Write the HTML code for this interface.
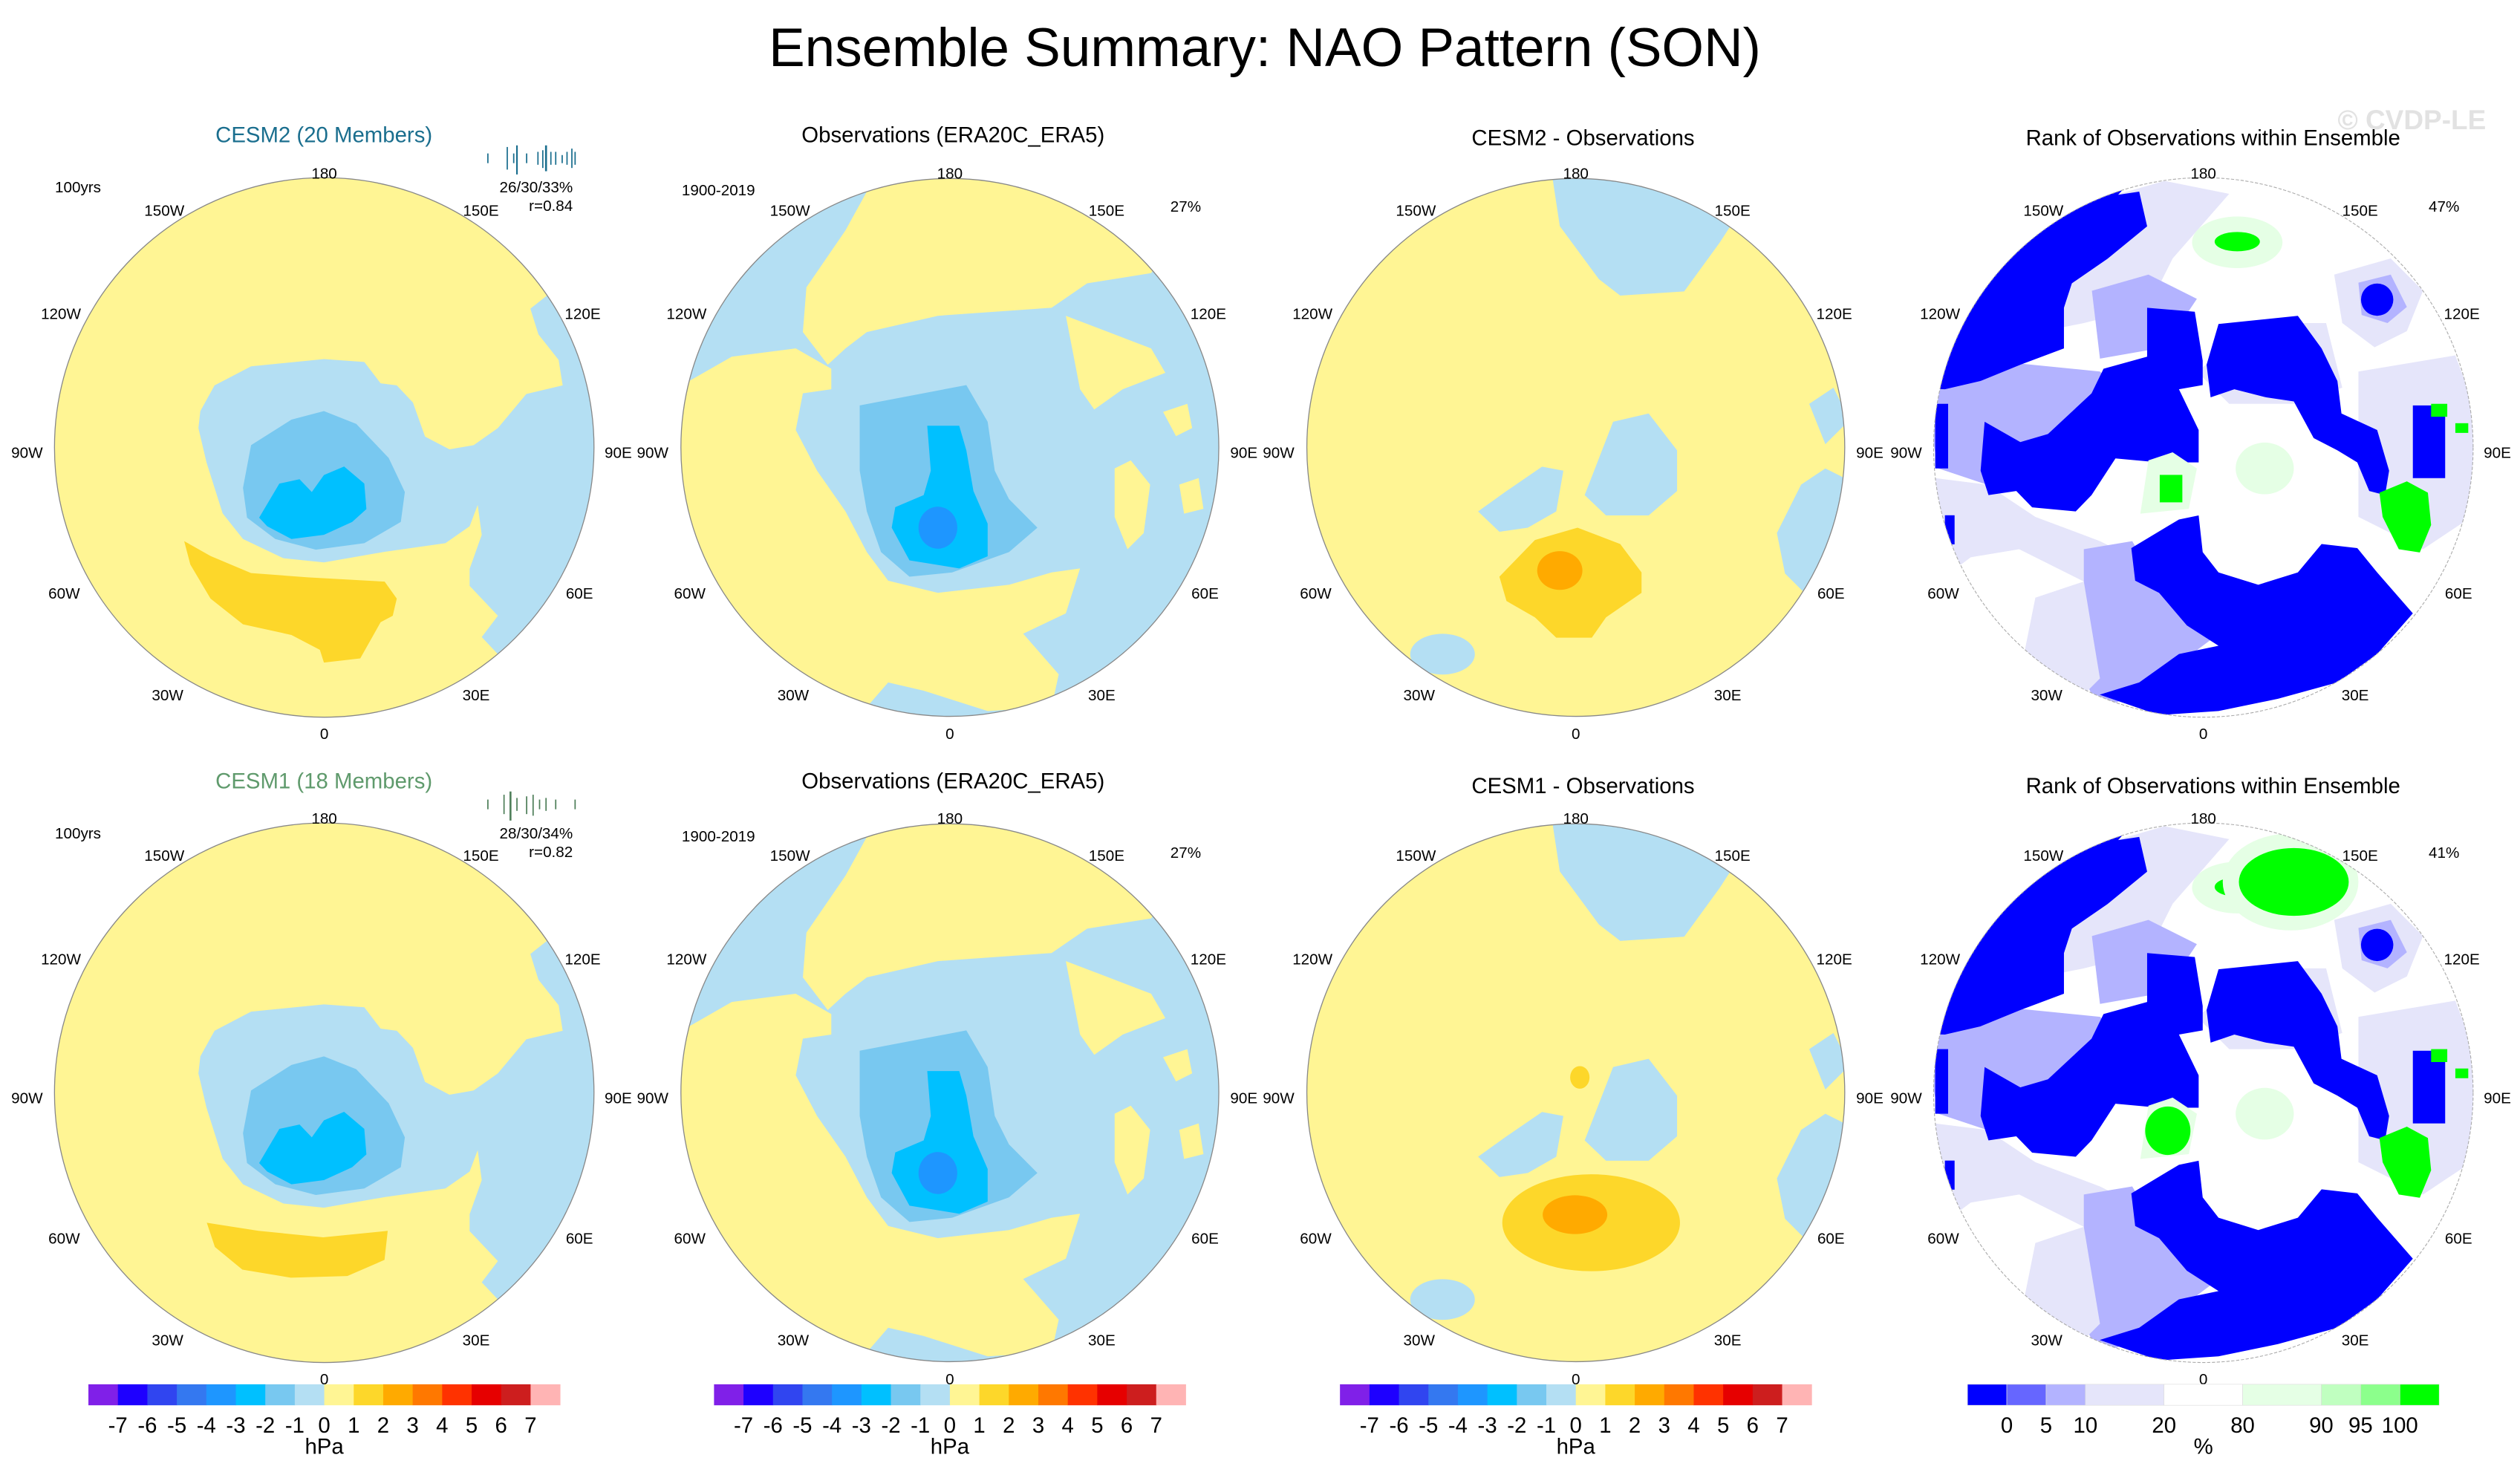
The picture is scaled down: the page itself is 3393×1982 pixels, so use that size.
<!DOCTYPE html>
<html><head><meta charset="utf-8">
<style>
html,body{margin:0;padding:0;background:#fff;}
svg{display:block;font-family:"Liberation Sans",Arial,sans-serif;}
</style></head>
<body>
<svg id="fig" xmlns="http://www.w3.org/2000/svg" width="3393" height="1982" viewBox="0 0 1560 911.3">
<defs>
  <clipPath id="c1"><circle cx="200.7" cy="277" r="167"/></clipPath>
  <clipPath id="c2"><circle cx="588" cy="277" r="166.5"/></clipPath>
  <clipPath id="c3"><circle cx="975.5" cy="277" r="166.5"/></clipPath>
  <clipPath id="c4"><circle cx="1364" cy="277" r="167"/></clipPath>
  <clipPath id="c5"><circle cx="200.7" cy="676.5" r="167"/></clipPath>
  <clipPath id="c6"><circle cx="588" cy="676.5" r="166.5"/></clipPath>
  <clipPath id="c7"><circle cx="975.5" cy="676.5" r="166.5"/></clipPath>
  <clipPath id="c8"><circle cx="1364" cy="676.5" r="167"/></clipPath>
  <g id="cesm-field">
    <polygon fill="#b4dff3" points="124,254.5 132.8,238.6 155.4,226.8 200.5,222.3 225.5,224.1 235.6,237.3 245.6,238.6 255.6,249.2 263.1,270.3 278.2,278.2 293.2,275.6 308.2,265 325.8,243.9 348.3,238.6 345.8,222.8 333.3,207 328.3,191.1 338.3,183.2 360,170 400,280 330,440 308.2,405 298.2,394.4 308.2,381.2 290.7,362.7 290.7,352.2 298.2,331.1 295.7,312.6 290.7,325.8 275.7,336.3 238.1,341.6 200.5,348.2 175.4,345.6 150.4,333.7 137.8,317.8 127.8,286.2 122.8,265"/>
    <polygon fill="#fff594" points="302,210 306,230 310,250 312,240 306,220"/>
    <polygon fill="#78c8f0" points="150.4,302 155.4,275.6 180.4,259.8 200.5,254.5 220.5,262.4 240.6,283.5 250.6,304.6 248.1,323.1 225.5,336.3 195.5,340.3 170.4,333.7 152.9,320.5"/>
    <polygon fill="#00c0ff" points="160.4,320.5 172.9,299.4 185.4,296.7 193,304.6 200.5,294.1 213,288.8 225.5,299.4 226.8,315.2 218,323.1 200.5,331.1 180.4,333.7 165.4,325.8"/>
  </g>
  <g id="obs-field">
    <circle cx="588" cy="277" r="170" fill="#b4dff3"/>
    <polygon fill="#fff594" points="536.6,118.6 523.4,142.6 499.2,177.9 497,205.6 512.4,225.8 523.4,215.7 536.6,205.6 580.6,195.5 651,190.5 673,175.4 712.6,169.1 760,100 536,90"/>
    <polygon fill="#fff594" points="426.6,235.9 453,220.8 492.6,215.7 514.6,228.3 514.6,241 497,243.5 492.6,266.2 505.8,291.4 523.4,316.6 536.6,341.8 549.8,359.5 580.6,367 624.6,362 651,354.4 668.6,351.9 659.8,379.7 633.4,392.3 655.4,417.5 651,437.7 611.4,440.2 571.8,427.6 549.8,422.5 536.6,437.7 480,470 400,400 400,240"/>
    <polygon fill="#b4dff3" points="420,420 470,430 520,440 540,460 440,460"/>
    <polygon fill="#fff594" points="659.8,195.5 686.2,205.6 712.6,215.7 721.4,230.8 695,241 677.4,253.5 668.6,241"/>
    <polygon fill="#fff594" points="690,290 700,285 712,300 708,330 698,340 690,320"/>
    <polygon fill="#fff594" points="720,255 735,250 738,265 728,270"/>
    <polygon fill="#fff594" points="730,300 742,296 745,315 733,318"/>
    <polygon fill="#78c8f0" points="532.2,251 598.2,238.4 611.4,261.1 615.8,291.4 624.6,309 642.2,326.7 624.6,341.8 589.4,354.4 563,357 545.4,341.8 536.6,316.6 532.2,291.4"/>
    <polygon fill="#00c0ff" points="574,263.6 593.8,263.6 598.2,278.8 602.6,304 611.4,324.2 611.4,344.4 593.8,351.9 563,346.9 552,326.7 554.2,314 571.8,306.5 576.2,291.4"/>
    <ellipse fill="#1e96ff" cx="580.6" cy="326.7" rx="12" ry="13"/>
  </g>
  <g id="diff-field">
    <polygon fill="#b4dff3" points="961.2,111 965.6,140 989.8,172.8 1003,183 1042.6,180.4 1064.6,150.2 1071.2,140 1060,100 960,100"/>
    <polygon fill="#b4dff3" points="915,316.6 932.6,304 954.6,288.9 967.8,291.4 963.4,316.6 945.8,326.7 928.2,329.2"/>
    <polygon fill="#b4dff3" points="981,306.5 998.6,261.1 1020.6,256 1038.2,278.8 1038.2,304 1020.6,319.1 994.2,319.1"/>
    <ellipse fill="#b4dff3" cx="893" cy="405" rx="20" ry="12.6"/>
    <polygon fill="#b4dff3" points="1100,330 1115,300 1130,290 1150,300 1150,370 1120,370 1105,355"/>
    <polygon fill="#b4dff3" points="1120,250 1135,240 1145,260 1130,275"/>
  </g>
  <g id="rank-field">
    <circle cx="1364" cy="277" r="170" fill="#ffffff"/>
    <polygon fill="#e5e5fa" points="1277,130 1340,112 1380,120 1345,160 1330,190 1290,200 1240,210 1220,180"/>
    <polygon fill="#b3b3ff" points="1295,180 1330,170 1360,185 1340,215 1300,222"/>
    <polygon fill="#b3b3ff" points="1190,240 1250,225 1300,230 1320,250 1300,290 1270,300 1230,300 1200,290"/>
    <polygon fill="#e5e5fa" points="1190,295 1230,300 1260,320 1300,335 1320,345 1290,360 1250,340 1220,345 1200,360"/>
    <polygon fill="#e5e5fa" points="1360,230 1400,200 1440,200 1450,240 1420,250 1380,250"/>
    <polygon fill="#b3b3ff" points="1290,340 1320,335 1340,370 1370,395 1330,425 1300,440 1285,410 1290,380"/>
    <polygon fill="#e5e5fa" points="1260,370 1290,360 1300,420 1280,440 1250,420"/>
    <polygon fill="#e5e5fa" points="1445,170 1480,160 1500,180 1490,205 1470,215 1450,200"/>
    <polygon fill="#b3b3ff" points="1460,175 1480,170 1490,190 1478,200 1462,195"/>
    <polygon fill="#e5e5fa" points="1460,230 1520,220 1535,260 1530,320 1500,340 1460,320"/>
    <polygon fill="#0000ff" points="1204,238.4 1209,205.6 1226,170.3 1250.7,140.1 1282.6,124.9 1324.3,118.6 1329.2,140.1 1304.7,160.2 1282.6,175.4 1277.7,190.5 1277.7,215.7 1250.7,225.8 1226,235.9 1204,241 1180,240 1180,100 1330,100"/>
    <polygon fill="#0000ff" points="1228.6,261.1 1250.7,273.7 1267.8,268.7 1294.8,243.5 1302.2,228.3 1329.2,220.8 1329.2,190.5 1358.7,193 1363.6,223.3 1363.6,238.4 1348.9,241 1361.1,266.2 1361.1,286.3 1336.6,286.3 1309.6,283.8 1294.8,306.5 1285,316.6 1258,314.1 1248.2,304 1231,306.5 1226.1,291.4"/>
    <polygon fill="#0000ff" points="1373.4,200.6 1422.5,195.5 1437.2,215.7 1447,235.9 1449.5,256 1471.6,266.2 1479,291.4 1476.5,306.5 1466.7,304 1459.3,286.3 1447,278.8 1432.3,271.2 1420,248.5 1402.9,246 1383.2,241 1368.5,246 1366,225.8"/>
    <polygon fill="#0000ff" points="1319.4,339.3 1348.9,321.6 1361.1,319.1 1363.6,341.8 1373.4,354.4 1398,362 1422.5,354.4 1437.2,336.8 1459.3,339.3 1471.6,354.4 1493.7,379.7 1471.6,404.9 1447,422.5 1410.2,432.6 1373.4,440.2 1336.6,442.7 1299.8,430.1 1324.3,422.5 1348.9,404.9 1373.4,399.8 1353.8,387.2 1336.6,367 1321.8,359.5"/>
    <ellipse fill="#0000ff" cx="1471.6" cy="185.5" rx="10" ry="10"/>
    <rect fill="#0000ff" x="1493.7" y="251" width="20" height="45"/>
    <rect fill="#0000ff" x="1198" y="250" width="8" height="40"/>
    <rect fill="#0000ff" x="1204" y="319" width="6" height="18"/>
    <ellipse fill="#e5ffe5" cx="1385" cy="150" rx="28" ry="16"/>
    <ellipse fill="#00ff00" cx="1385" cy="149.6" rx="14" ry="6"/>
    <polygon fill="#e5ffe5" points="1330,285 1345,280 1360,290 1355,315 1325,318"/>
    <rect fill="#00ff00" x="1337" y="294" width="14" height="17"/>
    <ellipse fill="#e5ffe5" cx="1402" cy="290" rx="18" ry="16"/>
    <polygon fill="#00ff00" points="1473,305 1490,298 1503,305 1505,325 1498,342 1485,340 1475,320"/>
    <rect fill="#00ff00" x="1505" y="250" width="10" height="8"/>
    <rect fill="#00ff00" x="1520" y="262" width="8" height="6"/>
  </g>
</defs>

<text x="783" y="41" font-size="33.5" text-anchor="middle" fill="#000">Ensemble Summary: NAO Pattern (SON)</text>
<text x="1539" y="80" font-size="17" font-weight="bold" text-anchor="end" fill="#e2e2e2">© CVDP-LE</text>

<g>
  <g clip-path="url(#c1)"><circle cx="200.7" cy="277" r="170" fill="#fff594"/><use href="#cesm-field"/>
    <polygon fill="#fdd72a" points="114,335 130.3,344.2 155.4,354.8 190.5,357.4 238.1,360.1 245.6,370.6 243.1,381.2 235.6,385.2 223,407.6 200.5,410.2 198,402.3 180.4,393.1 150.4,386.5 130.3,370.6 117.8,349.5"/></g>
  <circle cx="200.7" cy="277" r="167" fill="none" stroke="#888" stroke-width="0.6"/>
  <text x="200.5" y="88" font-size="13.5" text-anchor="middle" fill="#1a6e8e">CESM2 (20 Members)</text>
  <text x="34" y="119" font-size="9.5">100yrs</text>
  <text x="354.6" y="119" font-size="9.5" text-anchor="end">26/30/33%</text>
  <text x="354.6" y="130.5" font-size="9.5" text-anchor="end">r=0.84</text>
  <g stroke="#1a6e8e" stroke-width="0.8">
    <line x1="302" y1="95" x2="302" y2="101"/><line x1="314" y1="91" x2="314" y2="105"/><line x1="318" y1="95" x2="318" y2="101"/><line x1="320" y1="90" x2="320" y2="108" stroke-width="1"/><line x1="326" y1="95" x2="326" y2="101"/><line x1="333" y1="94" x2="333" y2="102"/><line x1="336" y1="93" x2="336" y2="104"/><line x1="338" y1="90" x2="338" y2="106" stroke-width="1.2"/><line x1="341" y1="94" x2="341" y2="102"/><line x1="344" y1="94" x2="344" y2="102"/><line x1="348" y1="96" x2="348" y2="101"/><line x1="351" y1="94" x2="351" y2="102"/><line x1="354" y1="92" x2="354" y2="104"/><line x1="356" y1="94" x2="356" y2="102"/>
  </g>
</g>
<g>
  <g clip-path="url(#c2)"><use href="#obs-field"/></g>
  <circle cx="588" cy="277" r="166.5" fill="none" stroke="#888" stroke-width="0.6"/>
  <text x="590" y="88" font-size="13.5" text-anchor="middle">Observations (ERA20C_ERA5)</text>
  <text x="422" y="121" font-size="9.5">1900-2019</text>
  <text x="734" y="131" font-size="9.5" text-anchor="middle">27%</text>
</g>
<g>
  <g clip-path="url(#c3)"><circle cx="975.5" cy="277" r="170" fill="#fff594"/><use href="#diff-field"/>
    <polygon fill="#fdd72a" points="928.2,357 950.2,334.3 976.6,326.7 1003,336.8 1016.2,354.4 1016.2,367 994.2,382.2 985.4,394.8 963.4,394.8 950.2,382.2 932.6,372.1"/>
    <ellipse fill="#ffaa00" cx="965.6" cy="353.2" rx="14" ry="12"/></g>
  <circle cx="975.5" cy="277" r="166.5" fill="none" stroke="#888" stroke-width="0.6"/>
  <text x="980" y="90" font-size="13.5" text-anchor="middle">CESM2 - Observations</text>
</g>
<g>
  <g clip-path="url(#c4)"><use href="#rank-field"/></g>
  <circle cx="1364" cy="277" r="167" fill="none" stroke="#aaa" stroke-width="0.5" stroke-dasharray="2 1"/>
  <text x="1370" y="90" font-size="13.5" text-anchor="middle">Rank of Observations within Ensemble</text>
  <text x="1513" y="131" font-size="9.5" text-anchor="middle">47%</text>
</g>
<g>
  <g clip-path="url(#c5)"><circle cx="200.7" cy="676.5" r="170" fill="#fff594"/><g transform="translate(0,399.5)"><use href="#cesm-field"/></g>
    <polygon fill="#fdd72a" points="128,757 160,762 200,766 240,762 238,780 215,790 180,791 150,786 133,772"/></g>
  <circle cx="200.7" cy="676.5" r="167" fill="none" stroke="#888" stroke-width="0.6"/>
  <text x="200.5" y="488" font-size="13.5" text-anchor="middle" fill="#5f9a6c">CESM1 (18 Members)</text>
  <text x="34" y="519" font-size="9.5">100yrs</text>
  <text x="354.6" y="519" font-size="9.5" text-anchor="end">28/30/34%</text>
  <text x="354.6" y="530.5" font-size="9.5" text-anchor="end">r=0.82</text>
  <g stroke="#4f7f5a" stroke-width="0.8">
    <line x1="302" y1="495" x2="302" y2="501"/><line x1="312" y1="492" x2="312" y2="504"/><line x1="316" y1="490" x2="316" y2="508" stroke-width="1.2"/><line x1="320" y1="494" x2="320" y2="502"/><line x1="326" y1="493" x2="326" y2="504"/><line x1="330" y1="492" x2="330" y2="505"/><line x1="334" y1="495" x2="334" y2="501"/><line x1="338" y1="494" x2="338" y2="502"/><line x1="344" y1="495" x2="344" y2="501"/><line x1="356" y1="495" x2="356" y2="501"/>
  </g>
</g>
<g>
  <g clip-path="url(#c6)"><g transform="translate(0,399.5)"><use href="#obs-field"/></g></g>
  <circle cx="588" cy="676.5" r="166.5" fill="none" stroke="#888" stroke-width="0.6"/>
  <text x="590" y="488" font-size="13.5" text-anchor="middle">Observations (ERA20C_ERA5)</text>
  <text x="422" y="521" font-size="9.5">1900-2019</text>
  <text x="734" y="531" font-size="9.5" text-anchor="middle">27%</text>
</g>
<g>
  <g clip-path="url(#c7)"><circle cx="975.5" cy="676.5" r="170" fill="#fff594"/><g transform="translate(0,399.5)"><use href="#diff-field"/></g>
    <ellipse fill="#fdd72a" cx="985" cy="757" rx="55" ry="30"/>
    <ellipse fill="#ffaa00" cx="975" cy="752" rx="20" ry="12"/>
    <ellipse fill="#fdd72a" cx="978" cy="667" rx="6" ry="7"/></g>
  <circle cx="975.5" cy="676.5" r="166.5" fill="none" stroke="#888" stroke-width="0.6"/>
  <text x="980" y="491" font-size="13.5" text-anchor="middle">CESM1 - Observations</text>
</g>
<g>
  <g clip-path="url(#c8)"><g transform="translate(0,399.5)"><use href="#rank-field"/></g>
    <ellipse fill="#e5ffe5" cx="1418" cy="546" rx="42" ry="30"/>
    <ellipse fill="#00ff00" cx="1420" cy="546" rx="34" ry="21"/>
    <ellipse fill="#00ff00" cx="1342" cy="700" rx="14" ry="15"/></g>
  <circle cx="1364" cy="676.5" r="167" fill="none" stroke="#aaa" stroke-width="0.5" stroke-dasharray="2 1"/>
  <text x="1370" y="491" font-size="13.5" text-anchor="middle">Rank of Observations within Ensemble</text>
  <text x="1513" y="531" font-size="9.5" text-anchor="middle">41%</text>
</g>
<g id="labels" font-size="9.5" text-anchor="middle"></g>
<g id="bars"></g>
</svg>
<script>
const hpaColors = ["#8020e8","#1e00ff","#3045f0","#3478f0","#1e96ff","#00c0ff","#78c8f0","#b4dff3","#fff594","#fdd72a","#ffaa00","#ff7800","#ff3200","#e60000","#cd1e1e","#ffb4b4"];
const hpaTicks = ["-7","-6","-5","-4","-3","-2","-1","0","1","2","3","4","5","6","7"];
const rankColors = ["#0000ff","#6666ff","#b3b3ff","#e5e5fa","#ffffff","#e5ffe5","#c0ffc0","#8cff8c","#00ff00"];
const rankUnits = [1,1,1,2,2,2,1,1,1];
const rankTicks = ["0","5","10","20","80","90","95","100"];
const panelCx = [200.7,588,975.5,1364];
const rowCy = [277,676.5];
const lonLabels = ["180","150E","120E","90E","60E","30E","0","30W","60W","90W","120W","150W"];
const lonOffsets = [[0,-170],[97,-147],[160,-83],[182,3],[158,90],[94,153],[0,177],[-97,153],[-161,90],[-184,3],[-163,-83],[-99,-147]];
const NS="http://www.w3.org/2000/svg";
const lab=document.getElementById('labels');
rowCy.forEach(cy=>panelCx.forEach(cx=>{
  lonLabels.forEach((s,i)=>{
    const t=document.createElementNS(NS,'text');
    t.setAttribute('x',cx+lonOffsets[i][0]);t.setAttribute('y',cy+lonOffsets[i][1]+3.5);
    t.textContent=s;
    
    
    lab.appendChild(t);
  });
}));
const bars=document.getElementById('bars');
const barW=292, barY=857, barH=13;
function addText(x,y,s,size){
  const t=document.createElementNS(NS,'text');
  t.setAttribute('x',x);t.setAttribute('y',y);t.setAttribute('font-size',size);t.setAttribute('text-anchor','middle');
  t.textContent=s;
  
  
  bars.appendChild(t);
}
for(let p=0;p<3;p++){
  const x0=panelCx[p]-barW/2, w=barW/hpaColors.length;
  hpaColors.forEach((c,i)=>{
    const r=document.createElementNS(NS,'rect');
    r.setAttribute('x',x0+i*w);r.setAttribute('y',barY);r.setAttribute('width',w+0.2);r.setAttribute('height',barH);r.setAttribute('fill',c);
    
    
    bars.appendChild(r);
  });
  hpaTicks.forEach((s,i)=>addText(x0+(i+1)*w,887,s,13.5));
  addText(panelCx[p],900,"hPa",13.5);
}
{
  const tot=rankUnits.reduce((a,b)=>a+b,0), u=barW/tot, x0=panelCx[3]-barW/2;
  let x=x0;
  rankColors.forEach((c,i)=>{
    const r=document.createElementNS(NS,'rect');
    r.setAttribute('x',x);r.setAttribute('y',barY);r.setAttribute('width',rankUnits[i]*u);r.setAttribute('height',barH);r.setAttribute('fill',c);
    r.setAttribute('stroke','#ddd');r.setAttribute('stroke-width','0.3');
    
    
    bars.appendChild(r);
    x+=rankUnits[i]*u;
    if(i<rankTicks.length) addText(x,887,rankTicks[i],13.5);
  });
  addText(panelCx[3],900,"%",13.5);
}
</script>
</body></html>
